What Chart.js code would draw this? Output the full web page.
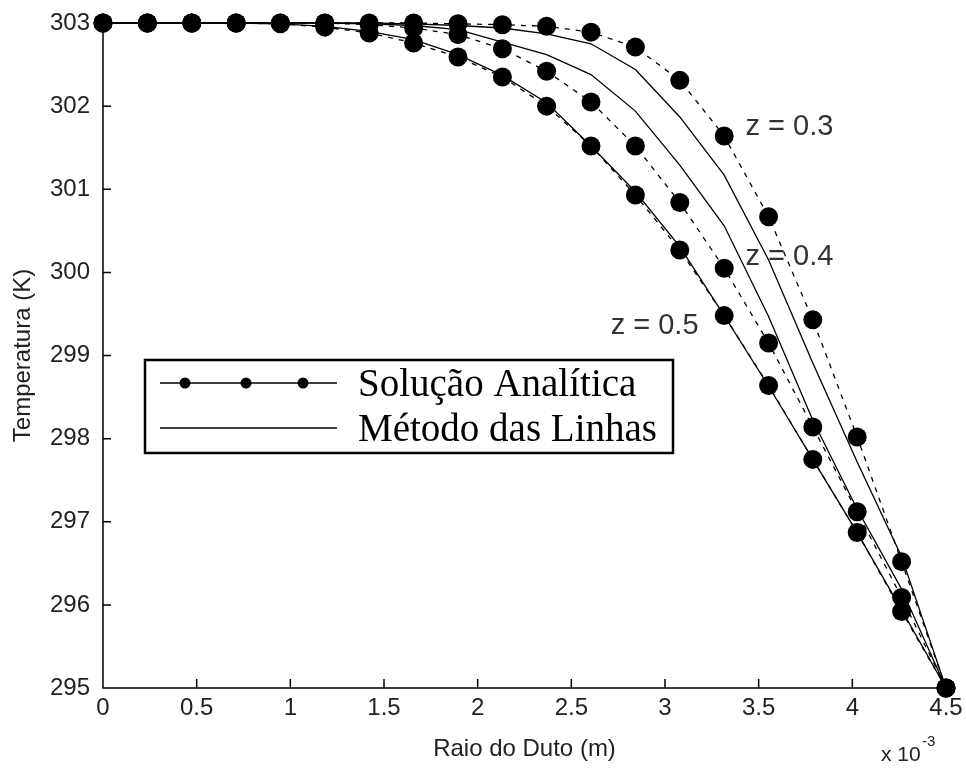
<!DOCTYPE html>
<html>
<head>
<meta charset="utf-8">
<script src="https://cdn.jsdelivr.net/npm/chart.js@4.4.1/dist/chart.umd.min.js"></script>
<style>
  body { margin: 0; background: #fff; }
  canvas { display: block; }
</style>
</head>
<body>
<canvas id="perfil" width="966" height="769"></canvas>
<script>
// Raio do duto (x 10^-3 m), 20 pontos da malha radial
const raio = [0, 0.237, 0.474, 0.711, 0.947, 1.184, 1.421, 1.658, 1.895, 2.132,
              2.368, 2.605, 2.842, 3.079, 3.316, 3.553, 3.789, 4.026, 4.263, 4.5];

// Solução analítica (K)
const analiticaZ03 = [303, 303, 303, 303, 303, 303, 303, 303, 302.99, 302.98,
                      302.96, 302.89, 302.71, 302.31, 301.64, 300.67, 299.43, 298.02, 296.52, 295];
const analiticaZ04 = [303, 303, 303, 303, 303, 303, 302.98, 302.94, 302.86, 302.69,
                      302.42, 302.05, 301.52, 300.84, 300.05, 299.15, 298.14, 297.12, 296.09, 295];
const analiticaZ05 = [303, 303, 303, 303, 302.99, 302.95, 302.88, 302.76, 302.59, 302.35,
                      302.0, 301.52, 300.93, 300.27, 299.48, 298.64, 297.75, 296.87, 295.92, 295];

// Método das linhas (K)
const linhasZ03 = [303, 303, 303, 303, 303, 303, 303, 302.99, 302.97, 302.94,
                   302.87, 302.75, 302.44, 301.87, 301.17, 300.15, 298.91, 297.72, 296.58, 295];
const linhasZ04 = [303, 303, 303, 303, 303, 303, 302.99, 302.97, 302.92, 302.77,
                   302.62, 302.38, 301.94, 301.29, 300.56, 299.47, 298.22, 297.15, 296.19, 295];
const linhasZ05 = [303, 303, 303, 303, 302.99, 302.96, 302.9, 302.8, 302.62, 302.37,
                   302.04, 301.52, 300.97, 300.31, 299.48, 298.63, 297.75, 296.87, 295.94, 295];

const xTicks = [0, 0.5, 1, 1.5, 2, 2.5, 3, 3.5, 4, 4.5];
const yTicks = [295, 296, 297, 298, 299, 300, 301, 302, 303];

// rótulos das curvas: [texto, raio, temperatura]
const rotulos = [
  ['z = 0.3', 3.43, 301.75],
  ['z = 0.4', 3.43, 300.19],
  ['z = 0.5', 2.71, 299.36]
];

const legendaTextos = ['Solução Analítica', 'Método das Linhas'];

function pares(ys) {
  return ys.map((y, i) => ({ x: raio[i], y: y }));
}

function analitica(ys) {
  return {
    data: pares(ys),
    borderColor: '#000',
    borderWidth: 1.3,
    borderDash: [5, 6],
    pointRadius: 9.5,
    pointBackgroundColor: '#000',
    pointBorderWidth: 0,
    clip: false
  };
}

function linhas(ys) {
  return {
    data: pares(ys),
    borderColor: '#000',
    borderWidth: 1.3,
    pointRadius: 0,
    clip: false
  };
}

const extras = {
  id: 'extras',
  afterDraw(chart) {
    const ctx = chart.ctx;
    const xs = chart.scales.x, ys = chart.scales.y;
    const area = chart.chartArea;
    ctx.save();

    // eixos e marcas para dentro
    ctx.strokeStyle = '#000';
    ctx.lineWidth = 1.5;
    ctx.beginPath();
    ctx.moveTo(area.left, area.top);
    ctx.lineTo(area.left, area.bottom);
    ctx.lineTo(area.right, area.bottom);
    yTicks.forEach(v => {
      const py = ys.getPixelForValue(v);
      ctx.moveTo(area.left, py);
      ctx.lineTo(area.left + 8, py);
    });
    xTicks.forEach(v => {
      const px = xs.getPixelForValue(v);
      ctx.moveTo(px, area.bottom);
      ctx.lineTo(px, area.bottom - 9);
    });
    ctx.stroke();

    // multiplicador do eixo x
    ctx.fillStyle = '#222';
    ctx.textBaseline = 'alphabetic';
    ctx.font = '21px "Liberation Sans", Arial, sans-serif';
    ctx.fillText('x 10', 881, 761);
    ctx.font = '15px "Liberation Sans", Arial, sans-serif';
    ctx.fillText('-3', 922, 746);

    // rótulos z
    ctx.font = '29px "Liberation Sans", Arial, sans-serif';
    ctx.fillStyle = '#333';
    ctx.textBaseline = 'middle';
    rotulos.forEach(([t, x, y]) => {
      ctx.fillText(t, xs.getPixelForValue(x), ys.getPixelForValue(y));
    });

    // legenda
    ctx.fillStyle = '#fff';
    ctx.fillRect(145, 360, 528, 93);
    ctx.strokeStyle = '#000';
    ctx.lineWidth = 2.5;
    ctx.strokeRect(145, 360, 528, 93);
    ctx.lineWidth = 1.5;
    ctx.beginPath();
    ctx.moveTo(160, 383); ctx.lineTo(337, 383);
    ctx.moveTo(160, 428); ctx.lineTo(337, 428);
    ctx.stroke();
    ctx.fillStyle = '#000';
    [185, 246, 303].forEach(px => {
      ctx.beginPath();
      ctx.arc(px, 383, 5.5, 0, Math.PI * 2);
      ctx.fill();
    });
    ctx.font = '39px "Liberation Serif", "Times New Roman", serif';
    ctx.textBaseline = 'alphabetic';
    ctx.fillText(legendaTextos[0], 358, 396);
    ctx.fillText(legendaTextos[1], 358, 441);
    ctx.restore();
  }
};

const fonteEixo = { family: '"Liberation Sans", Arial, sans-serif', size: 24 };

new Chart(document.getElementById('perfil'), {
  type: 'line',
  data: {
    datasets: [
      analitica(analiticaZ03),
      analitica(analiticaZ04),
      analitica(analiticaZ05),
      linhas(linhasZ03),
      linhas(linhasZ04),
      linhas(linhasZ05)
    ]
  },
  options: {
    responsive: false,
    animation: false,
    layout: { padding: { left: 0, top: 23, right: 20, bottom: 0 } },
    plugins: { legend: { display: false }, tooltip: { enabled: false } },
    scales: {
      x: {
        type: 'linear',
        min: 0,
        max: 4.5,
        afterBuildTicks: s => { s.ticks = xTicks.map(v => ({ value: v })); },
        afterFit: s => { s.height = 81; s.paddingLeft = 0; s.paddingRight = 0; },
        grid: { display: false },
        border: { display: false },
        ticks: { color: '#222', font: fonteEixo, padding: -2, maxRotation: 0, callback: v => String(v) },
        title: { display: true, text: 'Raio do Duto (m)', color: '#222', font: fonteEixo, padding: { top: 0, bottom: 5 } }
      },
      y: {
        type: 'linear',
        min: 295,
        max: 303,
        afterBuildTicks: s => { s.ticks = yTicks.map(v => ({ value: v })); },
        afterFit: s => { s.width = 103; s.paddingTop = 0; s.paddingBottom = 0; },
        grid: { display: false },
        border: { display: false },
        ticks: { color: '#222', font: fonteEixo, padding: 5, callback: v => String(v) },
        title: { display: true, text: 'Temperatura (K)', color: '#222', font: fonteEixo, padding: { top: 9, bottom: 0 } }
      }
    }
  },
  plugins: [extras]
});
</script>
</body>
</html>
